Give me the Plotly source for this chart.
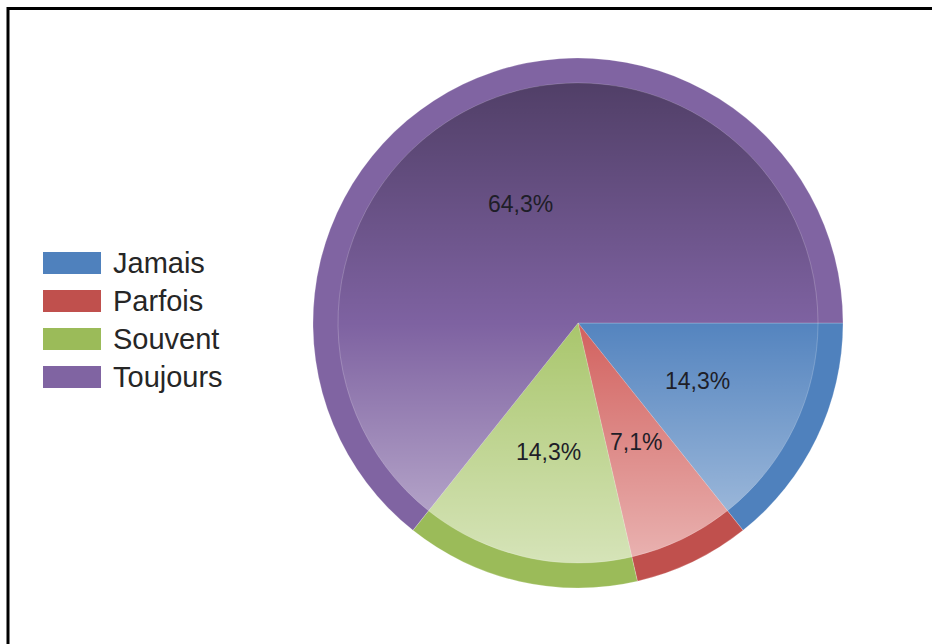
import base64
import math
import plotly.graph_objects as go

# Survey answers and their shares (%)
categories = ["Jamais", "Parfois", "Souvent", "Toujours"]
shares = [14.3, 7.1, 14.3, 64.3]

# Office-style palette: rim colours and legend swatches
rim_colors = ["#4F81BD", "#C0504D", "#9BBB59", "#8064A2"]
fill_colors = ["#5484BF", "#D2615E", "#A9C66C", "#7E62A1"]

W, H = 932, 644
CX, CY = 578, 323          # pie centre (px)
R_OUT, R_IN = 265, 240     # outer rim and inner disc radii (px)


def dom_x(c, r):
    return [(c - r) / W, (c + r) / W]


def dom_y(c, r):
    return [(H - (c + r)) / H, (H - (c - r)) / H]


fig = go.Figure()

# Outer rim: full pie in the saturated colours
fig.add_trace(go.Pie(
    labels=categories, values=shares, sort=False, direction="clockwise",
    rotation=90, textinfo="none", hoverinfo="label+percent",
    marker=dict(colors=rim_colors, line=dict(color="rgba(255,255,255,0.35)", width=0.6)),
    domain=dict(x=dom_x(CX, R_OUT), y=dom_y(CY, R_OUT)),
    showlegend=False,
))

# Inner disc, shaded afterwards with a vertical gradient
fig.add_trace(go.Pie(
    labels=categories, values=shares, sort=False, direction="clockwise",
    rotation=90, textinfo="none", hoverinfo="label+percent",
    marker=dict(colors=fill_colors, line=dict(color="rgba(255,255,255,0.35)", width=0.6)),
    domain=dict(x=dom_x(CX, R_IN), y=dom_y(CY, R_IN)),
    showlegend=False,
))

# Vertical dark-to-light gradient over the inner disc
svg = (
    '<svg xmlns="http://www.w3.org/2000/svg" width="480" height="480" viewBox="0 0 100 100">'
    '<defs><linearGradient id="g" x1="0" y1="0" x2="0" y2="1">'
    '<stop offset="0" stop-color="#000" stop-opacity="0.36"/>'
    '<stop offset="0.5" stop-color="#000" stop-opacity="0"/>'
    '<stop offset="0.5" stop-color="#fff" stop-opacity="0"/>'
    '<stop offset="1" stop-color="#fff" stop-opacity="0.52"/>'
    '</linearGradient></defs>'
    '<circle cx="50" cy="50" r="50" fill="url(#g)"/></svg>'
)
svg_uri = "data:image/svg+xml;base64," + base64.b64encode(svg.encode()).decode()
fig.add_layout_image(dict(
    source=svg_uri, xref="paper", yref="paper",
    x=(CX - R_IN) / W, y=1 - (CY - R_IN) / H,
    sizex=2 * R_IN / W, sizey=2 * R_IN / H,
    xanchor="left", yanchor="top", sizing="stretch", layer="above",
))

# Percentage labels at half radius along each slice bisector
total = sum(shares)
cum = 0.0
for v in shares:
    theta = math.radians(360.0 * (cum + v / 2) / total)
    cum += v
    px = CX + 0.5 * R_OUT * math.cos(theta)
    py = CY + 0.5 * R_OUT * math.sin(theta)
    fig.add_annotation(
        x=px / W, y=1 - py / H, xref="paper", yref="paper",
        text=f"{v:.1f}".replace(".", ",") + "%", showarrow=False,
        font=dict(family="Arial", size=23, color="#1e1e28"),
        xanchor="center", yanchor="middle",
    )

# Legend: wide colour swatches with labels
LEG_X0, LEG_X1, LEG_Y0, LEG_STEP, LEG_H = 43, 101, 252, 38, 22
for i, (name, col) in enumerate(zip(categories, rim_colors)):
    top = LEG_Y0 + i * LEG_STEP
    fig.add_shape(type="rect", xref="paper", yref="paper",
                  x0=LEG_X0 / W, x1=LEG_X1 / W,
                  y0=1 - (top + LEG_H) / H, y1=1 - top / H,
                  fillcolor=col, line=dict(width=0))
    fig.add_annotation(
        x=111 / W, y=1 - (top + LEG_H / 2) / H, xref="paper", yref="paper",
        text=name, showarrow=False, xanchor="left", yanchor="middle",
        font=dict(family="Arial", size=29, color="#262626"),
    )

# Frame lines along the top and left edges
fig.add_shape(type="line", xref="paper", yref="paper",
              x0=7 / W, x1=1, y0=1 - 8.5 / H, y1=1 - 8.5 / H,
              line=dict(color="black", width=3))
fig.add_shape(type="line", xref="paper", yref="paper",
              x0=8 / W, x1=8 / W, y0=0, y1=1 - 7 / H,
              line=dict(color="black", width=3))

fig.update_layout(
    width=W, height=H, margin=dict(l=0, r=0, t=0, b=0),
    paper_bgcolor="white", plot_bgcolor="white", showlegend=False,
)

fig.write_html("out.html")
